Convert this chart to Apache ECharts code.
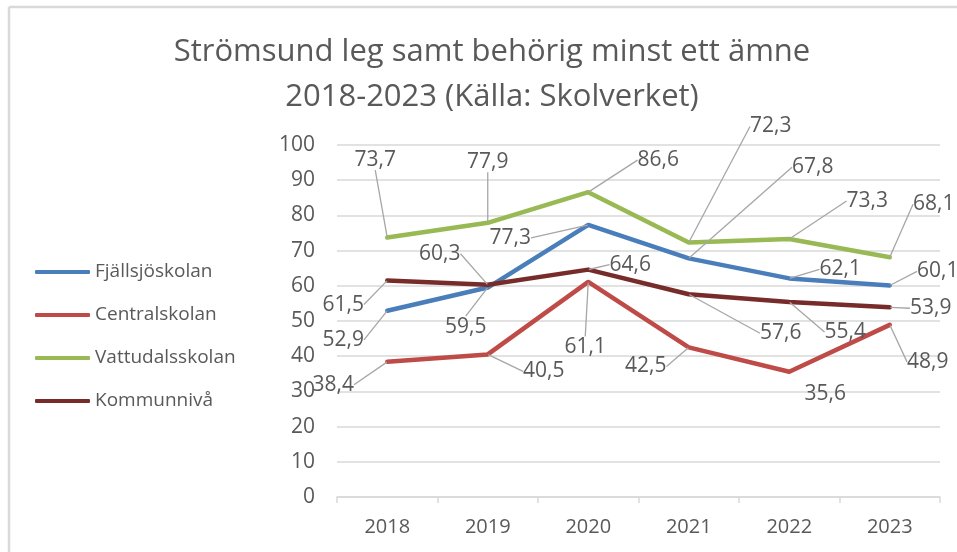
<!DOCTYPE html>
<html>
<head>
<meta charset="utf-8">
<title>Strömsund</title>
<script src="https://cdn.jsdelivr.net/npm/echarts@6/dist/echarts.min.js"></script>
<style>
  html, body { margin: 0; padding: 0; background: #fff; }
  #chart { width: 957px; height: 552px; }
</style>
</head>
<body>
<div id="chart"></div>
<script>
// data
const years = ['2018', '2019', '2020', '2021', '2022', '2023']
const fjallsjo = [52.9, 59.5, 77.3, 67.8, 62.1, 60.1]
const central = [38.4, 40.5, 61.1, 42.5, 35.6, 48.9]
const vattudal = [73.7, 77.9, 86.6, 72.3, 73.3, 68.1]
const kommun = [61.5, 60.3, 64.6, 57.6, 55.4, 53.9]

// where each callout label sits relative to its point [dx, dy]
const offsets = [
  [[-44, 29], [-22, 39], [-78, 13], [124, -91], [51, -9], [48, -14]],
  [[-54, 23], [56, 17], [-3, 65], [-43, 19], [36, 22], [38, 37]],
  [[-12, -78], [0, -61], [70, -32], [82, -116], [78, -38], [44, -53]],
  [[-44, 24], [-48, -31], [42, -5], [92, 39], [56, 30], [41, 1]]
]
// labels drawn without a leader line: [series, index]
const noLeader = [[1, 4]]

const gray = '#595959'
const font = '"Open Sans", "Liberation Sans", sans-serif'

const chart = echarts.init(document.getElementById('chart'))

function makeSeries (idx, name, data, color) {
  const items = data.map((v, i) => {
    const off = noLeader.some(n => n[0] === idx && n[1] === i)
    return off ? { value: v, labelLine: { show: false } } : v
  })
  return {
    name: name,
    type: 'line',
    data: items,
    symbol: 'circle',
    symbolSize: 1,
    itemStyle: { color: color },
    lineStyle: { color: color, width: 4.5, cap: 'round', join: 'round' },
    label: {
      show: true,
      position: 'inside',
      color: gray,
      fontFamily: font,
      fontSize: 21,
      formatter: p => String(p.value).replace('.', ',')
    },
    labelLine: {
      show: true,
      lineStyle: { color: '#a6a6a6', width: 1.3 }
    },
    labelLayout: function (params) {
      const o = offsets[params.seriesIndex][params.dataIndex]
      return { dx: o[0], dy: o[1] }
    },
    emphasis: { disabled: true }
  }
}

const option = {
  animation: false,
  backgroundColor: '#fff',
  title: {
    text: 'Strömsund leg samt behörig minst ett ämne\n2018-2023 (Källa: Skolverket)',
    left: 487,
    top: 25,
    textAlign: 'center',
    textStyle: {
      color: gray,
      fontFamily: font,
      fontWeight: 'normal',
      fontSize: 31,
      lineHeight: 45
    }
  },
  legend: {
    orient: 'vertical',
    left: 35,
    top: 262,
    padding: 0,
    itemWidth: 55,
    itemHeight: 4,
    itemGap: 23,
    icon: 'roundRect',
    textStyle: { color: gray, fontFamily: font, fontSize: 19, lineHeight: 20 },
    data: ['Fjällsjöskolan', 'Centralskolan', 'Vattudalsskolan', 'Kommunnivå']
  },
  grid: { left: 337, right: 17, top: 145, bottom: 55 },
  xAxis: {
    type: 'category',
    data: years,
    boundaryGap: true,
    axisLine: { lineStyle: { color: '#d9d9d9', width: 1.5 } },
    axisTick: { show: true, length: 6, lineStyle: { color: '#d9d9d9', width: 1.5 } },
    axisLabel: { color: gray, fontFamily: font, fontSize: 20, margin: 20 }
  },
  yAxis: {
    type: 'value',
    min: 0,
    max: 100,
    interval: 10,
    axisLine: { show: false },
    axisTick: { show: false },
    axisLabel: { color: gray, fontFamily: font, fontSize: 21, margin: 22 },
    splitLine: { lineStyle: { color: '#d9d9d9', width: 1.5 } }
  },
  graphic: [
    { type: 'line', shape: { x1: 9, y1: 7, x2: 957, y2: 7 }, style: { stroke: '#d9d9d9', lineWidth: 2.5 } },
    { type: 'line', shape: { x1: 9, y1: 7, x2: 9, y2: 552 }, style: { stroke: '#d9d9d9', lineWidth: 2.5 } }
  ],
  series: [
    makeSeries(0, 'Fjällsjöskolan', fjallsjo, '#4a7ebb'),
    makeSeries(1, 'Centralskolan', central, '#be4b48'),
    makeSeries(2, 'Vattudalsskolan', vattudal, '#98b954'),
    makeSeries(3, 'Kommunnivå', kommun, '#772c2a')
  ]
}

chart.setOption(option)
</script>
</body>
</html>
